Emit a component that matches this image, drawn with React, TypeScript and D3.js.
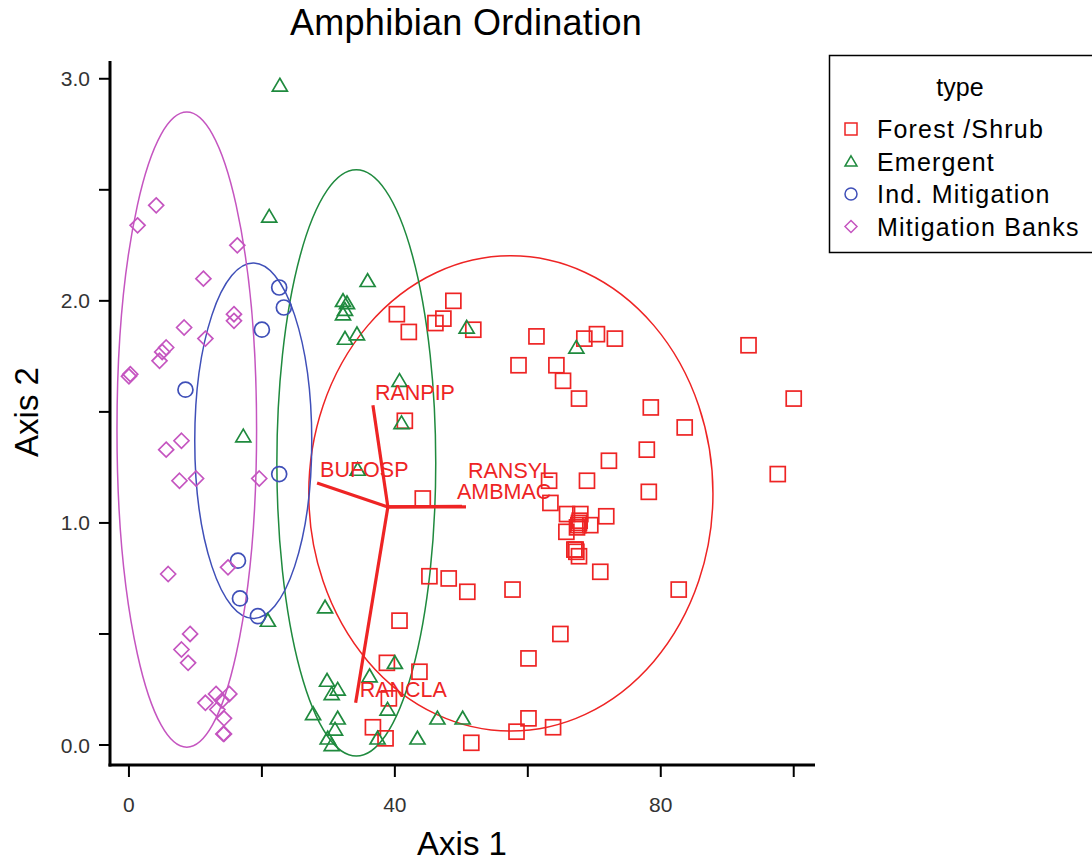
import React from "react";
import * as d3 from "d3";

// ---------- DATA ----------
const title = "Amphibian Ordination";
const xLabel = "Axis 1";
const yLabel = "Axis 2";
const legendTitle = "type";
const seriesNames = ["Forest /Shrub", "Emergent", "Ind. Mitigation", "Mitigation Banks"];

const xTicks = [0, 20, 40, 60, 80, 100];
const xTickLabels = ["0", "", "40", "", "80", ""];
const yTicks = [0, 0.5, 1, 1.5, 2, 2.5, 3];
const yTickLabels = ["0.0", "", "1.0", "", "2.0", "", "3.0"];

const forestShrub: [number, number][] = [
  [40.3, 1.94], [42.1, 1.86], [46.1, 1.90], [47.3, 1.92], [48.8, 2.00], [51.8, 1.87],
  [61.3, 1.84], [58.6, 1.71], [64.3, 1.71], [65.3, 1.64], [67.7, 1.56], [68.5, 1.83],
  [70.4, 1.85], [73.1, 1.83], [93.2, 1.80], [100.0, 1.56], [78.5, 1.52], [83.6, 1.43],
  [77.9, 1.33], [72.2, 1.28], [68.9, 1.19], [63.2, 1.19], [97.6, 1.22], [78.2, 1.14],
  [41.5, 1.46], [44.2, 1.11], [63.4, 1.09], [65.9, 1.04], [67.9, 1.04], [71.8, 1.03],
  [67.7, 1.00], [67.4, 0.98], [69.4, 0.99], [65.8, 0.96], [67.0, 0.88], [67.3, 0.87],
  [67.7, 0.85], [70.9, 0.78], [45.2, 0.76], [48.1, 0.75], [50.9, 0.69], [57.7, 0.70],
  [82.7, 0.70], [64.9, 0.50], [60.1, 0.39], [60.1, 0.12], [58.3, 0.06], [63.8, 0.08],
  [51.5, 0.01], [40.7, 0.56], [38.8, 0.37], [43.7, 0.33], [39.1, 0.21], [36.7, 0.08],
  [38.6, 0.03], [67.6, 0.99], [67.2, 0.88], [67.8, 1.01],
];

const emergent: [number, number][] = [
  [22.7, 2.97], [21.1, 2.38], [35.9, 2.09], [32.2, 2.00], [32.5, 1.96], [32.2, 1.94],
  [32.8, 1.99], [32.5, 1.83], [34.3, 1.85], [50.8, 1.88], [67.3, 1.79], [40.7, 1.64],
  [41.0, 1.45], [34.4, 1.24], [17.2, 1.39], [29.5, 0.62], [20.9, 0.56], [40.0, 0.37],
  [36.2, 0.31], [29.8, 0.29], [31.4, 0.25], [30.5, 0.23], [27.7, 0.14], [31.4, 0.12],
  [31.0, 0.07], [29.9, 0.03], [30.5, 0.00], [38.9, 0.16], [37.4, 0.03], [43.4, 0.03],
  [46.4, 0.12], [50.2, 0.12],
];

const indMitigation: [number, number][] = [
  [22.6, 2.06], [23.3, 1.97], [20.0, 1.87], [8.5, 1.60], [22.6, 1.22], [16.4, 0.83],
  [16.7, 0.66], [19.4, 0.58],
];

const mitigationBanks: [number, number][] = [
  [1.3, 2.34], [4.1, 2.43], [16.3, 2.25], [11.2, 2.10], [8.3, 1.88], [15.8, 1.94],
  [15.8, 1.91], [11.5, 1.83], [5.6, 1.79], [5.0, 1.77], [4.6, 1.73], [0.2, 1.67],
  [0.0, 1.66], [7.9, 1.37], [5.6, 1.33], [7.6, 1.19], [10.1, 1.20], [19.6, 1.20],
  [5.9, 0.77], [14.9, 0.80], [9.2, 0.50], [7.9, 0.43], [8.9, 0.37], [11.5, 0.19],
  [13.1, 0.23], [14.0, 0.20], [15.1, 0.23], [13.3, 0.16], [14.3, 0.12], [14.2, 0.05],
  [14.3, 0.05],
];

// confidence ellipses: [centerX, centerY, radiusX, radiusY] in data units
const ellipseForest = [57.45, 1.133, 30.4, 1.07];
const ellipseEmergent = [34.2, 1.27, 11.95, 1.32];
const ellipseInd = [18.7, 1.37, 8.8, 0.80];
const ellipseBanks = [8.7, 1.42, 10.5, 1.43];

// biplot vectors
const vectorOrigin: [number, number] = [38.95, 1.072];
const vectorNames = ["RANPIP", "BUFOSP", "RANSYL", "AMBMAC", "RANCLA"];
const vectorEnds: [number, number][] = [
  [36.7, 1.53], [28.3, 1.18], [50.1, 1.075], [50.7, 1.072], [34.1, 0.19],
];

// ---------- LAYOUT / STYLE ----------
const W = 1092, H = 861;
const FONT = "'Liberation Sans', Arial, Helvetica, sans-serif";
const colors = ["#ee2424", "#1f8a3e", "#3f4fb8", "#c555c0"];
const labelOffsets: [number, number][] = [[2, -5], [3, -6], [6, -28], [-9, -8], [4, -6]];

const x = d3.scaleLinear().domain([-2.85, 103.2]).range([110, 815]);
const y = d3.scaleLinear().domain([-0.09, 3.08]).range([765, 61]);

function Marker({ kind, cx, cy, s, color, sw }: { kind: number; cx: number; cy: number; s: number; color: string; sw: number }) {
  const h = s / 2;
  if (kind === 0)
    return <rect x={cx - h} y={cy - h} width={s} height={s} fill="none" stroke={color} strokeWidth={sw} />;
  if (kind === 1)
    return (
      <path
        d={`M${cx},${cy - h * 0.95} L${cx + h},${cy + h * 0.75} L${cx - h},${cy + h * 0.75} Z`}
        fill="none"
        stroke={color}
        strokeWidth={sw}
      />
    );
  if (kind === 2) return <circle cx={cx} cy={cy} r={h} fill="none" stroke={color} strokeWidth={sw} />;
  return (
    <path
      d={`M${cx},${cy - h} L${cx + h},${cy} L${cx},${cy + h} L${cx - h},${cy} Z`}
      fill="none"
      stroke={color}
      strokeWidth={sw}
    />
  );
}

export default function App() {
  const series = [forestShrub, emergent, indMitigation, mitigationBanks];
  const ellipses = [ellipseForest, ellipseEmergent, ellipseInd, ellipseBanks];
  const ox = x(vectorOrigin[0]);
  const oy = y(vectorOrigin[1]);
  return (
    <svg
      width={W}
      height={H}
      style={{ position: "absolute", left: 0, top: 0, background: "#fff" }}
      fontFamily={FONT}
    >
      <rect x={0} y={0} width={W} height={H} fill="#fff" />
      {/* title */}
      <text x={466} y={35} textAnchor="middle" fontSize={36} letterSpacing={0.3} fill="#000">
        {title}
      </text>

      {/* ellipses */}
      {ellipses.map((e, i) => (
        <ellipse
          key={"e" + i}
          cx={x(e[0])}
          cy={y(e[1])}
          rx={x(e[0] + e[2]) - x(e[0])}
          ry={y(e[1]) - y(e[1] + e[3])}
          fill="none"
          stroke={colors[i]}
          strokeWidth={1.5}
        />
      ))}

      {/* points */}
      {series.map((pts, si) =>
        pts.map((p, pi) => (
          <Marker key={`p${si}-${pi}`} kind={si} cx={x(p[0])} cy={y(p[1])} s={15} color={colors[si]} sw={1.7} />
        ))
      )}

      {/* biplot vectors */}
      {vectorEnds.map((v, i) => (
        <line key={"v" + i} x1={ox} y1={oy} x2={x(v[0])} y2={y(v[1])} stroke="#ee2424" strokeWidth={3.2} />
      ))}
      {vectorEnds.map((v, i) => (
        <text
          key={"vl" + i}
          x={x(v[0]) + labelOffsets[i][0]}
          y={y(v[1]) + labelOffsets[i][1]}
          fontSize={21.5}
          fill="#ee2424"
        >
          {vectorNames[i]}
        </text>
      ))}

      {/* axes */}
      <line x1={110} y1={61} x2={110} y2={766.5} stroke="#000" strokeWidth={3} />
      <line x1={108.5} y1={765} x2={815} y2={765} stroke="#000" strokeWidth={3} />
      {xTicks.map((t, i) => (
        <g key={"xt" + i}>
          <line x1={x(t)} x2={x(t)} y1={765} y2={777} stroke="#000" strokeWidth={2} />
          <text x={x(t)} y={812} textAnchor="middle" fontSize={21} fill="#333">
            {xTickLabels[i]}
          </text>
        </g>
      ))}
      {yTicks.map((t, i) => (
        <g key={"yt" + i}>
          <line x1={99} x2={110} y1={y(t)} y2={y(t)} stroke="#000" strokeWidth={2} />
          <text x={90} y={y(t) + 7.5} textAnchor="end" fontSize={21} fill="#333">
            {yTickLabels[i]}
          </text>
        </g>
      ))}
      <text x={462} y={855} textAnchor="middle" fontSize={33} fill="#000">
        {xLabel}
      </text>
      <text transform="translate(38,412) rotate(-90)" textAnchor="middle" fontSize={33} fill="#000">
        {yLabel}
      </text>

      {/* legend */}
      <rect x={829.5} y={55.5} width={300} height={197} fill="#fff" stroke="#000" strokeWidth={1.5} />
      <text x={960} y={96} textAnchor="middle" fontSize={25} fill="#000">
        {legendTitle}
      </text>
      {seriesNames.map((n, i) => {
        const cy = 129 + i * 32.5;
        return (
          <g key={"lg" + i}>
            <Marker kind={i} cx={851} cy={cy} s={12} color={colors[i]} sw={1.5} />
            <text x={877} y={cy + 9} fontSize={25} letterSpacing={1.2} fill="#000">
              {n}
            </text>
          </g>
        );
      })}
    </svg>
  );
}
